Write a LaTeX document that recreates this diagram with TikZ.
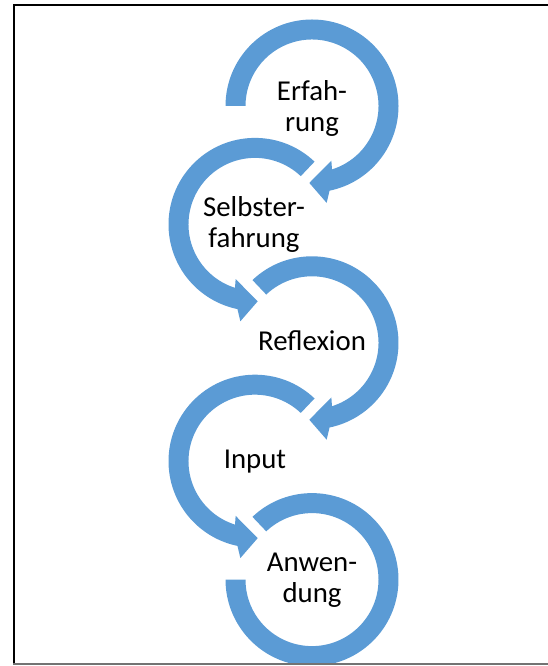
\documentclass[tikz,border=0pt]{standalone}
\usepackage{fontspec}
\setmainfont{Carlito}
\definecolor{ringblue}{RGB}{91,155,213}
\tikzset{
  ring/.style={fill=ringblue, draw=none},
  lbl/.style={font=\fontsize{28.8}{31}\selectfont, align=center, anchor=base, inner sep=0pt},
  frameline/.style={line width=1.5pt, draw=black},
  bottomline/.style={line width=1.3pt, draw=black!55},
}
% clockwise arrow ring: #1 centre, #2 start angle
\newcommand{\cwring}[2]{%
  \fill[ring,shift={#1}] (#2:86.5) arc[start angle=#2,end angle=-78.3,radius=86.5]
    -- (-81.4:98) -- (-92:77) -- (-70.5:58) -- (-72.5:66.5)
    arc[start angle=-72.5,end angle=#2,radius=66.5] -- cycle;}
% counter-clockwise arrow ring: #1 centre, #2 start angle
\newcommand{\ccwring}[2]{%
  \fill[ring,shift={#1}] (#2:86.5) arc[start angle=#2,end angle=258.3,radius=86.5]
    -- (261.4:98) -- (272:77) -- (250.5:58) -- (252.5:66.5)
    arc[start angle=252.5,end angle=#2,radius=66.5] -- cycle;}
\begin{document}
\begin{tikzpicture}[x=1pt,y=1pt]
\useasboundingbox (0,0) rectangle (548,666);
\begin{scope}
  \clip (0,2.5) rectangle (548,666);
  \cwring{(312,560)}{180}
  \ccwring{(255,441.6)}{46.5}
  \cwring{(312,323.2)}{133.5}
  \ccwring{(255,204.8)}{46.5}
  \fill[ring,shift={(312,86.4)}] (133.5:86.5) arc[start angle=133.5,end angle=-180,radius=86.5]
    -- (-180:66.5) arc[start angle=-180,end angle=133.5,radius=66.5] -- cycle;
\end{scope}
\node[lbl] (erf) at (312,534) {Erfah-\\rung};
\node[lbl] (selbst) at (254,418) {Selbster-\\fahrung};
\node[lbl] (refl) at (312,315) {Reflexion};
\node[lbl] (inp) at (255,197) {Input};
\node[lbl] (anw) at (312,63) {Anwen-\\dung};
\draw[frameline] (14,2) -- (14,661) -- (548,661);
\draw[bottomline] (13,2) -- (548,2);
\end{tikzpicture}
\end{document}
